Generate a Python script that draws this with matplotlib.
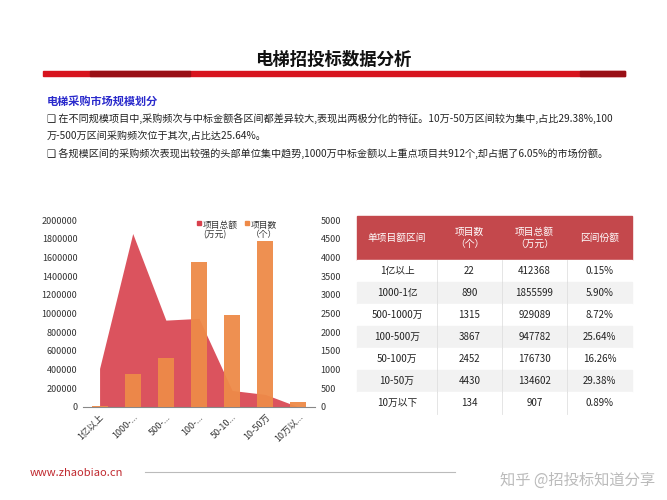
import matplotlib
matplotlib.use("Agg")
import matplotlib.pyplot as plt
from matplotlib import font_manager as fm
from matplotlib.patches import Rectangle
import numpy as np

cjk_name = None
for f in fm.findSystemFonts():
    if 'CJK' in f or 'cjk' in f.lower():
        try:
            fm.fontManager.addfont(f)
            nm = fm.FontProperties(fname=f).get_name()
            if cjk_name is None or 'SC' in nm:
                cjk_name = nm
        except Exception:
            pass
plt.rcParams['font.family'] = [cjk_name or 'Noto Sans CJK SC', 'DejaVu Sans']

categories = ["1亿以上", "1000-1亿", "500-1000万", "100-500万", "50-100万", "10-50万", "10万以下"]
tick_labels = ["1亿以上", "1000-...", "500-...", "100-...", "50-10...", "10-50万", "10万以..."]
counts = [22, 890, 1315, 3867, 2452, 4430, 134]
amounts = [412368, 1855599, 929089, 947782, 176730, 134602, 907]
shares = ["0.15%", "5.90%", "8.72%", "25.64%", "16.26%", "29.38%", "0.89%"]

W, H = 667, 500
fig = plt.figure(figsize=(W/100, H/100), dpi=100)

def fx(x): return x / W
def fy(y): return 1 - y / H

fig.text(fx(333), fy(60), "电梯招投标数据分析", ha='center', va='center', fontsize=12.5, fontweight='bold', color='#111111')
fig.patches.append(Rectangle((fx(43), fy(76)), fx(625-43), 5/H, transform=fig.transFigure, color='#D7141E'))
fig.patches.append(Rectangle((fx(90), fy(76)), fx(100), 5/H, transform=fig.transFigure, color='#9A1016'))
fig.patches.append(Rectangle((fx(580), fy(76)), fx(45), 5/H, transform=fig.transFigure, color='#9A1016'))

fig.text(fx(47), fy(101), "电梯采购市场规模划分", ha='left', va='center', fontsize=8, fontweight='bold', color='#2A2ACC')
body = [
    (119, "❑ 在不同规模项目中,采购频次与中标金额各区间都差异较大,表现出两极分化的特征。10万-50万区间较为集中,占比29.38%,100"),
    (136, "万-500万区间采购频次位于其次,占比达25.64%。"),
    (154, "❑ 各规模区间的采购频次表现出较强的头部单位集中趋势,1000万中标金额以上重点项目共912个,却占据了6.05%的市场份额。"),
]
for y, t in body:
    fig.text(fx(47), fy(y), t, ha='left', va='center', fontsize=7.25, color='#222222')

ax = fig.add_axes([fx(83), fy(407), fx(315-83), (407-220)/H])
x = np.arange(len(categories))
ax.fill_between(x, amounts, 0, color='#D8404C', alpha=0.9, linewidth=0, zorder=1)
ax.set_xlim(-0.5, 6.5)
ax.set_ylim(0, 2000000)
ax.set_yticks(np.arange(0, 2000001, 200000))
ax.set_yticklabels([str(v) for v in range(0, 2000001, 200000)], fontsize=6.5, color='#333333')
ax.set_xticks(x)
ax.set_xticklabels(tick_labels, rotation=45, ha='right', rotation_mode='anchor', fontsize=6.5, color='#333333')
for s in ['top', 'right', 'left']:
    ax.spines[s].set_visible(False)
ax.spines['bottom'].set_color('#888888')
ax.tick_params(length=0, pad=4)
ax.patch.set_alpha(0)

ax2 = ax.twinx()
ax2.bar(x, counts, width=0.48, color='#EE8A48', alpha=0.95, zorder=2)
ax2.set_ylim(0, 5000)
ax2.set_yticks(np.arange(0, 5001, 500))
ax2.set_yticklabels([str(v) for v in range(0, 5001, 500)], fontsize=6.5, color='#333333')
for s in ['top', 'right', 'left', 'bottom']:
    ax2.spines[s].set_visible(False)
ax2.tick_params(length=0, pad=4)
ax.set_zorder(1); ax2.set_zorder(2); ax2.patch.set_alpha(0)

fig.patches.append(Rectangle((fx(197), fy(225)), 4/W, 4/H, transform=fig.transFigure, color='#D8404C'))
fig.text(fx(203), fy(221), "项目总额\n(万元)", ha='left', va='top', fontsize=6.3, color='#333333', linespacing=1.0)
fig.patches.append(Rectangle((fx(245), fy(225)), 4/W, 4/H, transform=fig.transFigure, color='#EE8A48'))
fig.text(fx(251), fy(221), "项目数\n（个）", ha='left', va='top', fontsize=6.3, color='#333333', linespacing=1.0)

cols = [357, 437, 502, 567, 632]
top, hdr_bot, rowh = 216, 260, 22
fig.patches.append(Rectangle((fx(cols[0]), fy(hdr_bot)), fx(cols[-1]-cols[0]), (hdr_bot-top)/H,
                             transform=fig.transFigure, color='#C4484C'))
headers = ["单项目额区间", "项目数\n（个）", "项目总额\n（万元）", "区间份额"]
for i, h in enumerate(headers):
    fig.text(fx((cols[i]+cols[i+1])/2), fy((top+hdr_bot)/2), h, ha='center', va='center',
             fontsize=7, color='white', linespacing=1.2)
for r in range(len(categories)):
    y0 = hdr_bot + r*rowh
    bg = '#FFFFFF' if r % 2 == 0 else '#F2F2F2'
    fig.patches.append(Rectangle((fx(cols[0]), fy(y0+rowh)), fx(cols[-1]-cols[0]), rowh/H,
                                 transform=fig.transFigure, color=bg))
    vals = [categories[r], str(counts[r]), str(amounts[r]), shares[r]]
    for i, v in enumerate(vals):
        fig.text(fx((cols[i]+cols[i+1])/2), fy(y0+rowh/2), v, ha='center', va='center',
                 fontsize=7, color='#222222')
    for c in cols[1:-1]:
        fig.lines.append(plt.Line2D([fx(c), fx(c)], [fy(y0), fy(y0+rowh)], transform=fig.transFigure,
                                    color='#E0E0E0', linewidth=0.6))

fig.text(fx(30), fy(473), "www.zhaobiao.cn", ha='left', va='center', fontsize=8, color='#C0282E')
fig.lines.append(plt.Line2D([fx(145), fx(455)], [fy(472), fy(472)], transform=fig.transFigure,
                            color='#BBBBBB', linewidth=0.8))
fig.text(fx(655), fy(480), "知乎 @招投标知道分享", ha='right', va='center', fontsize=11, color='#BBBBBB')

fig.savefig("out.png", dpi=100)
